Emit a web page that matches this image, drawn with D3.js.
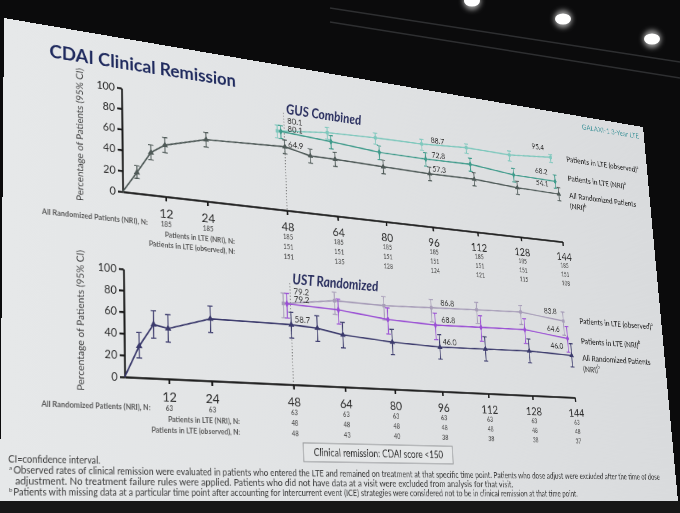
<!DOCTYPE html>
<html>
<head>
<meta charset="utf-8">
<script src="https://cdn.jsdelivr.net/npm/d3@7"></script>
<style>
  html, body { margin: 0; padding: 0; width: 680px; height: 513px; overflow: hidden; background: #0b0b0c; }
  #bg { position: absolute; left: 0; top: 0; }
  #slide { position: absolute; left: 0; top: 0; width: 1000px; height: 563px; transform-origin: 0 0; }
  text { font-family: Lato, "Open Sans", sans-serif; }
  .axis path, .axis line { stroke: #1b1b1b; stroke-width: 2.4; }
  .axis text { fill: #2b2b2b; font-family: Lato, "Open Sans", sans-serif; }
</style>
</head>
<body>
<svg id="bg" width="680" height="513"></svg>
<div id="slide"><svg id="chart" width="1000" height="563"></svg></div>
<script>
// ---- data ----
const weeksAll = [0, 4, 8, 12, 24, 48, 56, 64, 80, 96, 112, 128, 144];
const weeksLTE = [48, 64, 80, 96, 112, 128, 144];
const tickWeeks = [12, 24, 48, 64, 80, 96, 112, 128, 144];
const yTicks = [0, 20, 40, 60, 80, 100];
const labelWeeks = [48, 96, 144];

// GUS Combined
const gusAll   = [0, 20, 41, 50, 61, 64.9, 59, 59, 58, 57.3, 58, 55, 54.1];
const gusAllLo = [0, 14.3, 33.9, 42.6, 53.6, 57.6, 51.5, 51.5, 50.6, 49.8, 50.6, 47.5, 46.6];
const gusAllHi = [0, 26.4, 48.4, 57.4, 68.1, 71.7, 66.1, 66.1, 65.2, 64.5, 65.2, 62.3, 61.4];
const gusNri   = [80.1, 77, 73, 72.8, 74, 69, 68.2];
const gusNriLo = [72.8, 69.5, 65.2, 65.0, 66.2, 61.0, 60.2];
const gusNriHi = [86.1, 83.4, 79.9, 79.7, 80.7, 76.2, 75.5];
const gusObs   = [80.1, 86, 88, 88.7, 92, 91, 95.4];
const gusObsLo = [72.8, 79.0, 81.1, 81.8, 85.7, 84.2, 89.5];
const gusObsHi = [86.1, 91.3, 93.0, 93.7, 96.1, 95.4, 98.5];
const gusNAll  = [185, 185, 185, 185, 185, 185, 185, 185, 185];
const gusNLte  = [151, 151, 151, 151, 151, 151, 151];
const gusNObs  = [151, 135, 128, 124, 121, 115, 108];

// UST Randomized
const ustAll   = [0, 29, 50, 47, 59, 58.7, 57, 52, 48, 46.0, 47, 48, 46.0];
const ustAllLo = [0, 18.0, 37.1, 34.3, 45.9, 45.6, 43.9, 39.0, 35.2, 33.4, 34.3, 35.2, 33.4];
const ustAllHi = [0, 41.6, 62.9, 60.1, 71.2, 71.0, 69.4, 64.7, 61.0, 59.1, 60.1, 61.0, 59.1];
const ustNri   = [79.2, 77, 71, 68.8, 70, 71, 64.6];
const ustNriLo = [65.0, 62.7, 56.0, 53.7, 55.0, 56.0, 49.5];
const ustNriHi = [89.5, 88.0, 83.0, 81.3, 82.4, 83.0, 77.8];
const ustObs   = [79.2, 86, 85, 86.8, 88.5, 90, 83.8];
const ustObsLo = [65.0, 72.1, 70.2, 71.9, 73.9, 76.3, 68.0];
const ustObsHi = [89.5, 94.7, 94.3, 95.6, 96.5, 97.2, 93.8];
const ustNAll  = [63, 63, 63, 63, 63, 63, 63, 63, 63];
const ustNLte  = [48, 48, 48, 48, 48, 48, 48];
const ustNObs  = [48, 43, 40, 38, 38, 38, 37];

// ---- slide is photographed at an angle: map the flat slide onto the screen quad ----
const W = 1000, H = 563;
const quad = [[4, 18], [643, 127], [678, 501], [0, 501]]; // TL, TR, BR, BL

function homography(q, w, h) {
  const [[x0, y0], [x1, y1], [x2, y2], [x3, y3]] = q;
  const dx1 = x1 - x2, dx2 = x3 - x2, dx3 = x0 - x1 + x2 - x3;
  const dy1 = y1 - y2, dy2 = y3 - y2, dy3 = y0 - y1 + y2 - y3;
  const den = dx1 * dy2 - dx2 * dy1;
  const g = (dx3 * dy2 - dx2 * dy3) / den;
  const k = (dx1 * dy3 - dx3 * dy1) / den;
  const a = x1 - x0 + g * x1, b = x3 - x0 + k * x3;
  const d = y1 - y0 + g * y1, e = y3 - y0 + k * y3;
  return [a / w, d / w, 0, g / w, b / h, e / h, 0, k / h, 0, 0, 1, 0, x0, y0, 0, 1];
}
d3.select("#slide").style("transform", "matrix3d(" + homography(quad, W, H).join(",") + ")");

// ---- room around the screen ----
const bg = d3.select("#bg");
const glow = bg.append("defs").append("filter").attr("id", "glow")
  .attr("x", "-100%").attr("y", "-100%").attr("width", "300%").attr("height", "300%");
glow.append("feGaussianBlur").attr("stdDeviation", 2.5);
bg.append("rect").attr("width", 680).attr("height", 513).attr("fill", "#0b0b0c");
bg.append("rect").attr("y", 501).attr("width", 680).attr("height", 12).attr("fill", "#171717");
bg.append("path").attr("d", "M330,8 L680,62 M330,22 L680,78").attr("stroke", "#2e2f31").attr("stroke-width", 1.5).attr("fill", "none");
[[472, 1], [563, 19], [652, 39]].forEach(p => {
  bg.append("circle").attr("cx", p[0]).attr("cy", p[1]).attr("r", 9).attr("fill", "#9a9a9a").attr("filter", "url(#glow)");
  bg.append("ellipse").attr("cx", p[0]).attr("cy", p[1]).attr("rx", 8).attr("ry", 5.5).attr("fill", "#ffffff");
});

// ---- slide ----
const svg = d3.select("#chart");
const grad = svg.append("defs").append("linearGradient").attr("id", "paper");
grad.append("stop").attr("offset", "0%").attr("stop-color", "#e6e8e9");
grad.append("stop").attr("offset", "100%").attr("stop-color", "#d9dbdd");
svg.append("rect").attr("width", W).attr("height", H).attr("fill", "url(#paper)");

svg.append("text").attr("x", 56).attr("y", 40)
  .attr("font-size", 23.5).attr("font-weight", 700).attr("fill", "#1f2a5e")
  .text("CDAI Clinical Remission");

svg.append("text").attr("x", 990).attr("y", 20).attr("text-anchor", "end")
  .attr("font-size", 12).attr("fill", "#4e9aa0")
  .text("GALAXI-1 3-Year LTE");

const x = d3.scaleLinear().domain([0, 144]).range([148, 824]);

function supText(g, px, py, main, sup, size) {
  const t = g.append("text").attr("x", px).attr("y", py)
    .attr("font-size", size).attr("font-weight", 600).attr("fill", "#3a3a3a").attr("dominant-baseline", "central");
  t.append("tspan").text(main);
  if (sup) t.append("tspan").attr("font-size", size * 0.6).attr("dy", -4).text(sup);
  return t;
}

function drawPanel(cfg) {
  const y = d3.scaleLinear().domain([0, 100]).range([cfg.y0, cfg.y0 - cfg.h]);
  const g = svg.append("g");

  // dotted marker of week 48
  g.append("line")
    .attr("x1", x(48)).attr("x2", x(48)).attr("y1", y(100)).attr("y2", y(0))
    .attr("stroke", "#7a7a7a").attr("stroke-width", 1.3).attr("stroke-dasharray", "1.5,2.5");

  g.append("text").attr("x", x(48) + 4).attr("y", y(100) + 1)
    .attr("font-size", 18).attr("font-weight", 700).attr("font-style", "italic").attr("fill", "#2a2f5f")
    .text(cfg.title);

  // axes
  g.append("g").attr("class", "axis")
    .attr("transform", "translate(" + x(0) + ",0)")
    .call(d3.axisLeft(y).tickValues(yTicks).tickSize(6).tickSizeOuter(0).tickPadding(3))
    .selectAll("text").attr("font-size", 13.5);

  g.append("g").attr("class", "axis")
    .attr("transform", "translate(0," + y(0) + ")")
    .call(d3.axisBottom(x).tickValues(tickWeeks).tickSize(6).tickSizeOuter(0).tickPadding(10))
    .selectAll("text").attr("font-size", 16);

  g.append("text")
    .attr("transform", "translate(98," + y(50) + ") rotate(-90)")
    .attr("text-anchor", "middle").attr("font-size", 12).attr("fill", "#444")
    .text("Percentage of Patients (95% CI)");

  // series
  cfg.series.forEach(s => {
    const pts = s.weeks.map((w, i) => ({ w: w, v: s.vals[i], lo: s.lo[i], hi: s.hi[i] }));
    const px = d => x(d.w + s.dodge);

    g.append("path").datum(pts)
      .attr("fill", "none").attr("stroke", s.color).attr("stroke-width", 1.9)
      .attr("d", d3.line().x(px).y(d => y(d.v)));

    const marked = pts.filter(d => d.w > 0);
    const eb = g.append("g").attr("stroke", s.color).attr("stroke-width", 1.4);
    eb.selectAll(".bar").data(marked).enter().append("path")
      .attr("fill", "none")
      .attr("d", d => "M" + (px(d) - 3.5) + "," + y(d.hi) + "h7M" + px(d) + "," + y(d.hi) +
        "V" + y(d.lo) + "M" + (px(d) - 3.5) + "," + y(d.lo) + "h7");

    g.selectAll(null).data(marked).enter().append("path")
      .attr("transform", d => "translate(" + px(d) + "," + y(d.v) + ")")
      .attr("d", d3.symbol().type(s.symbol).size(s.size))
      .attr("fill", s.color);

    // value labels
    g.selectAll(null).data(pts.filter(d => labelWeeks.includes(d.w))).enter().append("text")
      .attr("x", d => d.w === 144 ? x(d.w) - s.lab144 : x(d.w) + 5)
      .attr("y", d => y(d.v) + (d.w === 48 ? s.lab48 : d.w === 96 ? -4 : -9))
      .attr("text-anchor", d => d.w === 144 ? "end" : "start")
      .attr("font-size", 11.5).attr("fill", "#333")
      .text(d => d3.format(".1f")(d.v));

    // legend at the right end
    const last = pts[pts.length - 1];
    const ly = y(last.v) + s.legendDy;
    supText(g, 843, ly, s.legend[0], s.legend[1] ? null : s.sup, 12);
    if (s.legend[1]) supText(g, 843, ly + 16, s.legend[1], s.sup, 12);
  });

  // patient numbers under the axis
  cfg.rows.forEach((r, k) => {
    const ry = y(0) + 38 + k * 13;
    g.append("text").attr("x", r.lx).attr("y", ry).attr("text-anchor", "end")
      .attr("font-size", 9).attr("font-weight", 700).attr("fill", "#5a5a5a").text(r.label);
    g.selectAll(null).data(r.weeks).enter().append("text")
      .attr("x", d => x(d)).attr("y", ry).attr("text-anchor", "middle")
      .attr("font-size", 8.5).attr("font-weight", 600).attr("fill", "#5a5a5a")
      .text((d, i) => r.n[i]);
  });
}

drawPanel({
  title: "GUS Combined", y0: 196, h: 131,
  series: [
    { weeks: weeksLTE, vals: gusObs, lo: gusObsLo, hi: gusObsHi, color: "#7fc8bd", symbol: d3.symbolSquare, size: 22,
      dodge: -2.2, lab48: -12, lab144: 21, legend: ["Patients in LTE (observed)"], sup: "a", legendDy: -2 },
    { weeks: weeksLTE, vals: gusNri, lo: gusNriLo, hi: gusNriHi, color: "#3f9b8b", symbol: d3.symbolDiamond, size: 28,
      dodge: -1.1, lab48: -1, lab144: 18, legend: ["Patients in LTE (NRI)"], sup: "b", legendDy: -9 },
    { weeks: weeksAll, vals: gusAll, lo: gusAllLo, hi: gusAllHi, color: "#4f5a58", symbol: d3.symbolTriangle, size: 30,
      dodge: 0, lab48: 0, lab144: 18, legend: ["All Randomized Patients", "(NRI)"], sup: "b", legendDy: -1 }
  ],
  rows: [
    { label: "All Randomized Patients (NRI), N:", weeks: tickWeeks, n: gusNAll, lx: 180 },
    { label: "Patients in LTE (NRI), N:", weeks: weeksLTE, n: gusNLte, lx: 297 },
    { label: "Patients in LTE (observed), N:", weeks: weeksLTE, n: gusNObs, lx: 297 }
  ]
});

drawPanel({
  title: "UST Randomized", y0: 420, h: 129,
  series: [
    { weeks: weeksLTE, vals: ustObs, lo: ustObsLo, hi: ustObsHi, color: "#a79db8", symbol: d3.symbolSquare, size: 22,
      dodge: -2.2, lab48: -13, lab144: 21, legend: ["Patients in LTE (observed)"], sup: "a", legendDy: -3 },
    { weeks: weeksLTE, vals: ustNri, lo: ustNriLo, hi: ustNriHi, color: "#9a4fd4", symbol: d3.symbolDiamond, size: 28,
      dodge: -1.1, lab48: -3, lab144: 18, legend: ["Patients in LTE (NRI)"], sup: "b", legendDy: 1 },
    { weeks: weeksAll, vals: ustAll, lo: ustAllLo, hi: ustAllHi, color: "#3b3a6c", symbol: d3.symbolTriangle, size: 30,
      dodge: 0, lab48: -3, lab144: 14, legend: ["All Randomized Patients", "(NRI)"], sup: "b", legendDy: 1 }
  ],
  rows: [
    { label: "All Randomized Patients (NRI), N:", weeks: tickWeeks, n: ustNAll, lx: 180 },
    { label: "Patients in LTE (NRI), N:", weeks: weeksLTE, n: ustNLte, lx: 297 },
    { label: "Patients in LTE (observed), N:", weeks: weeksLTE, n: ustNObs, lx: 297 }
  ]
});

// definition box
svg.append("rect").attr("x", 384).attr("y", 492).attr("width", 225).attr("height", 23)
  .attr("fill", "#e4e6e7").attr("stroke", "#9a9c9e").attr("stroke-width", 1.2);
svg.append("text").attr("x", 496).attr("y", 508).attr("text-anchor", "middle")
  .attr("font-size", 12.5).attr("fill", "#2e2e2e")
  .text("Clinical remission: CDAI score <150");

// footnotes
const notes = [
  { sup: null, text: "CI=confidence interval.", x: 9, y: 521, len: 108 },
  { sup: "a", text: "Observed rates of clinical remission were evaluated in patients who entered the LTE and remained on treatment at that specific time point. Patients who dose adjust were excluded after the time of dose", x: 15, y: 533, len: 954 },
  { sup: null, text: "adjustment. No treatment failure rules were applied. Patients who did not have data at a visit were excluded from analysis for that visit.", x: 17, y: 545, len: 688 },
  { sup: "b", text: "Patients with missing data at a particular time point after accounting for Intercurrent event (ICE) strategies were considered not to be in clinical remission at that time point.", x: 15, y: 557, len: 800 }
];
notes.forEach(n => {
  if (n.sup) svg.append("text").attr("x", n.x - 5).attr("y", n.y - 4).attr("font-size", 6.5).attr("fill", "#3a3a3a").text(n.sup);
  svg.append("text").attr("x", n.x).attr("y", n.y).attr("font-size", 10.5).attr("fill", "#3a3a3a")
    .attr("textLength", n.len).attr("lengthAdjust", "spacingAndGlyphs").text(n.text);
});
</script>
</body>
</html>
